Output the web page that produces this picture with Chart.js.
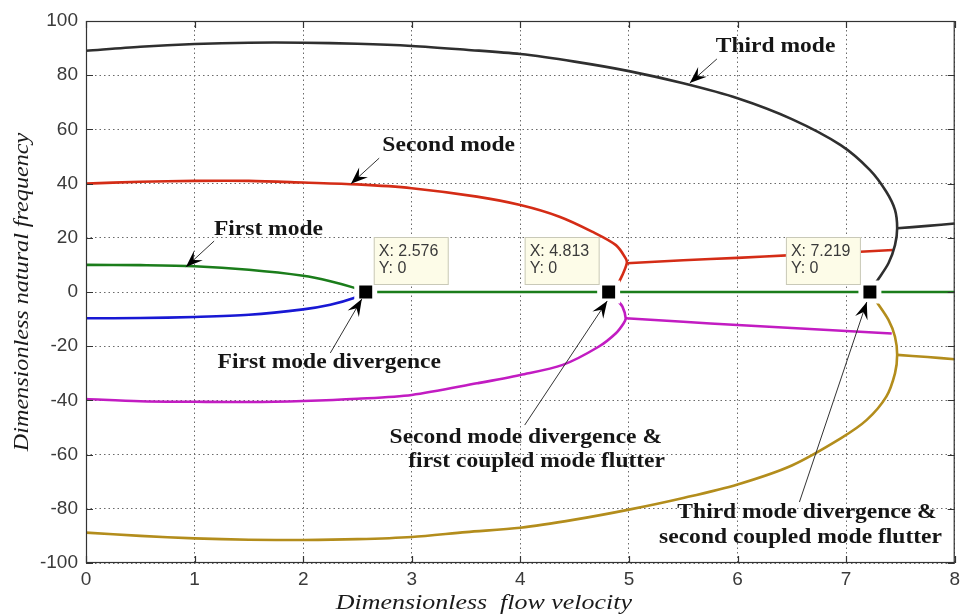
<!DOCTYPE html>
<html>
<head>
<meta charset="utf-8">
<script src="https://cdn.jsdelivr.net/npm/chart.js@4.4.1/dist/chart.umd.min.js"></script>
<style>
  html, body { margin: 0; padding: 0; background: #fff; }
  #wrap { width: 965px; height: 615px; }
</style>
</head>
<body>
<div id="wrap"><canvas id="flutterChart" width="965" height="615"></canvas></div>
<script>
// tick labels
const xTickValues = [0, 1, 2, 3, 4, 5, 6, 7, 8];
const yTickValues = [-100, -80, -60, -40, -20, 0, 20, 40, 60, 80, 100];

// divergence points shown with data tips
const divergenceX = [2.576, 4.813, 7.219];
const divergenceY = [0, 0, 0];

// branches: [flow velocity, natural frequency]
const thirdModeUpper = [[0, 89], [0.5, 90.5], [1, 91.5], [1.5, 92], [2, 92], [2.5, 91.6], [3, 90.8],
  [3.5, 89.4], [4, 87.8], [4.5, 85], [5, 81.5], [5.5, 77], [6, 71.5], [6.5, 63.8], [6.95, 54.2],
  [7.22, 45], [7.37, 37], [7.45, 30.3], [7.47, 23.5], [7.45, 17.3], [7.39, 10.6], [7.28, 3.8], [7.219, 0]];
const secondCoupledUpper = [[7.47, 23.5], [7.75, 24.4], [8, 25.3]];

const secondModeUpper = [[0, 40], [0.5, 40.7], [1, 41], [1.5, 41], [2, 40.4], [2.5, 39.7], [3, 38.3],
  [3.6, 35.2], [4, 32.1], [4.36, 27.8], [4.66, 22.3], [4.88, 17.3], [4.97, 12.4], [4.98, 10.6],
  [4.94, 6.3], [4.89, 2.6], [4.813, 0]];
const firstCoupledUpper = [[4.98, 10.6], [5.5, 11.7], [6, 12.6], [6.5, 13.6], [7, 14.6], [7.43, 15.5]];

const firstModeUpper = [[0, 10], [0.5, 9.9], [1, 9.5], [1.5, 8.2], [2, 6], [2.25, 4], [2.45, 1.8], [2.576, 0]];
const zeroBranch = [[2.576, 0], [8, 0]];
const firstModeLower = [[0, -9.7], [0.5, -9.6], [1, -9.2], [1.5, -8.4], [2, -6.4], [2.25, -4.7], [2.46, -2.3], [2.576, 0]];

const secondModeLower = [[0, -39.5], [0.5, -40.3], [1, -40.5], [1.5, -40.6], [2, -40.2], [2.5, -39.4], [3, -38],
  [3.6, -33.7], [4, -30.6], [4.39, -26.9], [4.72, -20.2], [4.88, -15.2], [4.95, -11.6], [4.97, -9.7],
  [4.94, -5.4], [4.89, -3], [4.813, 0]];
const firstCoupledLower = [[4.97, -9.7], [5.5, -11], [6, -12.2], [6.5, -13.3], [7, -14.4], [7.42, -15.3]];

const thirdModeLower = [[0, -88.8], [0.5, -90], [1, -90.9], [1.5, -91.4], [2, -91.5], [2.5, -91.2], [3, -90.4],
  [3.5, -88.6], [4, -87], [4.5, -84], [5, -80.3], [5.5, -76], [6, -71], [6.5, -64], [6.95, -54],
  [7.19, -47.2], [7.37, -38.6], [7.45, -30], [7.47, -23.2], [7.45, -16.5], [7.39, -10.3], [7.28, -3.6], [7.219, 0]];
const secondCoupledLower = [[7.47, -23.2], [7.75, -24], [8, -24.8]];

// callout texts and arrows (in data units)
const labels = [
  { text: 'Third mode', x: 6.35, y: 90.4 },
  { text: 'Second mode', x: 3.34, y: 54.2 },
  { text: 'First mode', x: 1.68, y: 23.2 },
  { text: 'First mode divergence', x: 2.24, y: -26.2 },
  { text: 'Second mode divergence &', x: 4.05, y: -53.9 },
  { text: 'first coupled mode flutter', x: 4.15, y: -62.7 },
  { text: 'Third mode divergence &', x: 6.64, y: -81.5 },
  { text: 'second coupled mode flutter', x: 6.58, y: -90.8 }
];
const arrows = [
  { from: [5.81, 86.0], to: [5.56, 77.1] },
  { from: [2.70, 49.4], to: [2.44, 39.9] },
  { from: [1.18, 18.8], to: [0.92, 9.2] },
  { from: [2.25, -22.5], to: [2.54, -2.6] },
  { from: [4.04, -49.1], to: [4.80, -3.3] },
  { from: [6.57, -77.5], to: [7.19, -3.7] }
];
const tipSide = ['right', 'left', 'left'];

const toXY = arr => arr.map(p => ({ x: p[0], y: p[1] }));

function branch(points, color) {
  return {
    data: toXY(points),
    showLine: true,
    borderColor: color,
    borderWidth: 2.6,
    pointRadius: 0,
    tension: 0.3,
    order: 1
  };
}

function drawArrow(ctx, x0, y0, x1, y1) {
  ctx.save();
  ctx.strokeStyle = '#333';
  ctx.lineWidth = 1;
  ctx.beginPath();
  ctx.moveTo(x0, y0);
  ctx.lineTo(x1, y1);
  ctx.stroke();
  const len = Math.hypot(x1 - x0, y1 - y0);
  const ux = (x1 - x0) / len, uy = (y1 - y0) / len;
  const nx = -uy, ny = ux;
  const L = 17, W = 6.5;
  ctx.fillStyle = '#000';
  ctx.beginPath();
  ctx.moveTo(x1, y1);
  ctx.lineTo(x1 - L * ux + W * nx, y1 - L * uy + W * ny);
  ctx.lineTo(x1 - 0.62 * L * ux, y1 - 0.62 * L * uy);
  ctx.lineTo(x1 - L * ux - W * nx, y1 - L * uy - W * ny);
  ctx.closePath();
  ctx.fill();
  ctx.restore();
}

function stretchedText(ctx, text, x, y, sx, angle) {
  ctx.save();
  ctx.translate(x, y);
  if (angle) ctx.rotate(angle);
  ctx.scale(sx, 1);
  ctx.fillText(text, 0, 0);
  ctx.restore();
}

const decor = {
  id: 'decor',
  afterDraw(chart) {
    const { ctx, chartArea: a, scales: { x, y } } = chart;
    ctx.save();

    // axes box and inward ticks
    ctx.strokeStyle = '#333';
    ctx.lineWidth = 1.2;
    ctx.strokeRect(a.left + 0.5, a.top + 0.5, a.right - a.left - 1, a.bottom - a.top - 1);
    ctx.beginPath();
    xTickValues.forEach(v => {
      const px = Math.round(x.getPixelForValue(v)) + 0.5;
      ctx.moveTo(px, a.bottom); ctx.lineTo(px, a.bottom - 7);
      ctx.moveTo(px, a.top); ctx.lineTo(px, a.top + 7);
    });
    yTickValues.forEach(v => {
      const py = Math.round(y.getPixelForValue(v)) + 0.5;
      ctx.moveTo(a.left, py); ctx.lineTo(a.left + 7, py);
      ctx.moveTo(a.right, py); ctx.lineTo(a.right - 7, py);
    });
    ctx.stroke();

    // data tips
    divergenceX.forEach((v, i) => {
      const px = x.getPixelForValue(v);
      const py = y.getPixelForValue(divergenceY[i]);
      const w = 75, h = 48;
      const left = tipSide[i] === 'right' ? px + 8 : px - 9 - w;
      const top = py - 55;
      ctx.fillStyle = '#fdfce8';
      ctx.fillRect(left, top, w, h);
      ctx.strokeStyle = '#c9c9b8';
      ctx.lineWidth = 1;
      ctx.strokeRect(left + 0.5, top + 0.5, w - 1, h - 1);
      ctx.fillStyle = '#3a3a3a';
      ctx.font = '16px "Liberation Sans", Arial, sans-serif';
      ctx.textAlign = 'left';
      ctx.textBaseline = 'middle';
      ctx.fillText('X: ' + v, left + 5, top + 15);
      ctx.fillText('Y: ' + divergenceY[i], left + 5, top + 32);
    });

    // callouts
    arrows.forEach(ar => {
      drawArrow(ctx, x.getPixelForValue(ar.from[0]), y.getPixelForValue(ar.from[1]),
        x.getPixelForValue(ar.to[0]), y.getPixelForValue(ar.to[1]));
    });
    ctx.fillStyle = '#161616';
    ctx.font = 'bold 21px "Liberation Serif", "Times New Roman", serif';
    ctx.textAlign = 'center';
    ctx.textBaseline = 'middle';
    labels.forEach(l => {
      stretchedText(ctx, l.text, x.getPixelForValue(l.x), y.getPixelForValue(l.y), 1.12, 0);
    });

    // axis titles
    ctx.fillStyle = '#1a1a1a';
    ctx.font = 'italic 22px "Liberation Serif", "Times New Roman", serif';
    stretchedText(ctx, 'Dimensionless  flow velocity', a.left + (a.right - a.left) * 0.458, 603, 1.18, 0);
    ctx.font = 'italic 21px "Liberation Serif", "Times New Roman", serif';
    stretchedText(ctx, 'Dimensionless natural frequency', 22, (a.top + a.bottom) / 2, 1.15, -Math.PI / 2);

    ctx.restore();
  }
};

const tickFont = { family: '"Liberation Sans", Arial, sans-serif', size: 19 };

new Chart(document.getElementById('flutterChart'), {
  type: 'scatter',
  data: {
    datasets: [
      {
        data: divergenceX.map((v, i) => ({ x: v, y: divergenceY[i] })),
        pointStyle: 'rect',
        pointRadius: 12.7,
        backgroundColor: '#000',
        borderColor: '#fff',
        borderWidth: 5,
        showLine: false,
        order: 0
      },
      branch(thirdModeUpper, '#2f2f2f'),
      branch(secondCoupledUpper, '#2f2f2f'),
      branch(secondModeUpper, '#d42c16'),
      branch(firstCoupledUpper, '#d42c16'),
      branch(firstModeUpper, '#1b7d1b'),
      branch(zeroBranch, '#1b7d1b'),
      branch(firstModeLower, '#1818d4'),
      branch(secondModeLower, '#c21cc2'),
      branch(firstCoupledLower, '#c21cc2'),
      branch(thirdModeLower, '#b38d1c'),
      branch(secondCoupledLower, '#b38d1c')
    ]
  },
  options: {
    responsive: false,
    devicePixelRatio: 1,
    animation: false,
    layout: { autoPadding: false, padding: { top: 21, right: 3, left: 0, bottom: 0 } },
    plugins: { legend: { display: false }, tooltip: { enabled: false } },
    scales: {
      x: {
        type: 'linear', min: 0, max: 8,
        afterBuildTicks: s => { s.ticks = xTickValues.map(v => ({ value: v })); },
        afterFit: s => { s.height = 52; },
        ticks: { font: tickFont, color: '#3a3a3a', padding: 5, maxRotation: 0 },
        grid: { color: '#6a6a6a', lineWidth: 1, drawTicks: false },
        border: { display: false, dash: [1.5, 3] }
      },
      y: {
        type: 'linear', min: -100, max: 100,
        afterBuildTicks: s => { s.ticks = yTickValues.map(v => ({ value: v })); },
        afterFit: s => { s.width = 86; },
        ticks: { font: tickFont, color: '#3a3a3a', padding: 8 },
        grid: { color: '#6a6a6a', lineWidth: 1, drawTicks: false },
        border: { display: false, dash: [1.5, 3] }
      }
    }
  },
  plugins: [decor]
});
</script>
</body>
</html>
